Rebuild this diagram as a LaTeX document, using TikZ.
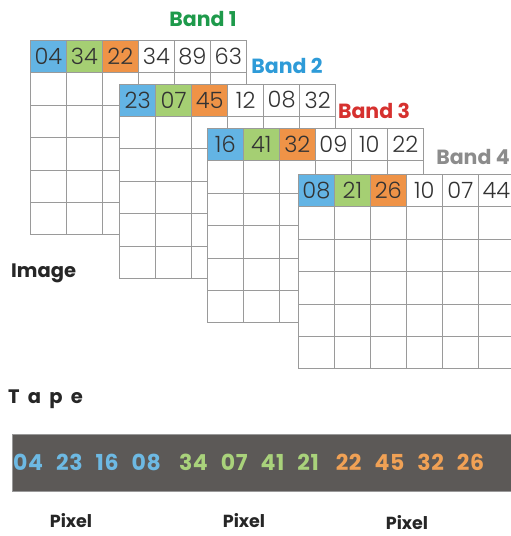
\documentclass[tikz,border=0pt]{standalone}
\usepackage{fontspec}
\setmainfont{Poppins}
\newfontfamily\lightfont{Poppins Light}
\definecolor{cblue}{HTML}{63B4E4}
\definecolor{cgreen}{HTML}{A5CF73}
\definecolor{corange}{HTML}{EF9347}
\definecolor{gridgray}{HTML}{9A9A9A}
\definecolor{numgray}{HTML}{333333}
\definecolor{bandone}{HTML}{1E9A4B}
\definecolor{bandtwo}{HTML}{2E9BD8}
\definecolor{bandthree}{HTML}{D6312F}
\definecolor{bandfour}{HTML}{8C8C8C}
\definecolor{tapebg}{HTML}{5C5957}
\definecolor{tblue}{HTML}{6DB9E3}
\definecolor{tgreen}{HTML}{A9D27B}
\definecolor{torange}{HTML}{F0A155}
\newcommand\bandgrid[9]{%
  \foreach \c in {0,...,5}{\foreach \r in {1,...,5}{%
    \node[cell] (#1-\c-\r) at ({#2+36*\c},{#3+32.4*\r}) {};}}
  \node[cell,fill=cblue] (#1-0-0) at (#2,#3) {#4};
  \node[cell,fill=cgreen] (#1-1-0) at ({#2+36},#3) {#5};
  \node[cell,fill=corange] (#1-2-0) at ({#2+72},#3) {#6};
  \node[cell] (#1-3-0) at ({#2+108},#3) {#7};
  \node[cell] (#1-4-0) at ({#2+144},#3) {#8};
  \node[cell] (#1-5-0) at ({#2+180},#3) {#9};
}
\newcommand\tgap{\hspace{13pt}}
\begin{document}
\begin{tikzpicture}[x=1pt,y=-1pt,
  cell/.style={draw=gridgray, line width=0.7pt, fill=white, minimum width=36pt,
    minimum height=32.4pt, inner sep=0pt, anchor=north west, text=numgray,
    font=\lightfont\fontsize{22.5}{22.5}\selectfont},
  bandlabel/.style={font=\bfseries\fontsize{20.5}{20.5}\selectfont, inner sep=0pt},
  blacklabel/.style={font=\bfseries\fontsize{19.5}{19.5}\selectfont, inner sep=0pt, text=black!85},
  tapetext/.style={font=\bfseries\fontsize{22}{22}\selectfont\addfontfeature{LetterSpace=3}, inner sep=0pt},
  pixlabel/.style={font=\bfseries\fontsize{17.5}{17.5}\selectfont, inner sep=0pt, text=black!85}]
\useasboundingbox (0,0) rectangle (511,536);
\bandgrid{b1}{30}{40}{04}{34}{22}{34}{89}{63}
\bandgrid{b2}{119.3}{83.5}{23}{07}{45}{12}{08}{32}
\bandgrid{b3}{207}{128}{16}{41}{32}{09}{10}{22}
\bandgrid{b4}{298}{174}{08}{21}{26}{10}{07}{44}
\node[bandlabel, text=bandone] (lab1) at (203,19) {Band 1};
\node[bandlabel, text=bandtwo] (lab2) at (287,66) {Band 2};
\node[bandlabel, text=bandthree] (lab3) at (374,111) {Band 3};
\node[bandlabel, text=bandfour] (lab4) at (473,157) {Band 4};
\node[blacklabel, anchor=base west] (img) at (11,277) {Image};
\node[blacklabel, anchor=base west] (tapelab) at (8,403) {\addfontfeature{LetterSpace=42}Tape};
\node[fill=tapebg, draw=black!40, line width=0.5pt, anchor=north west, minimum width=505pt, minimum height=57pt, inner sep=0pt] (tape) at (12,434) {};
\node[tapetext, text=tblue] (t1) at (87,462) {04\tgap 23\tgap 16\tgap 08};
\node[tapetext, text=tgreen] (t2) at (249,462) {34\tgap 07\tgap 41\tgap 21};
\node[tapetext, text=torange] (t3) at (410,462) {22\tgap 45\tgap 32\tgap 26};
\node[pixlabel] (p1) at (71,521) {Pixel};
\node[pixlabel] (p2) at (244,521) {Pixel};
\node[pixlabel] (p3) at (407,523) {Pixel};
\end{tikzpicture}
\end{document}
